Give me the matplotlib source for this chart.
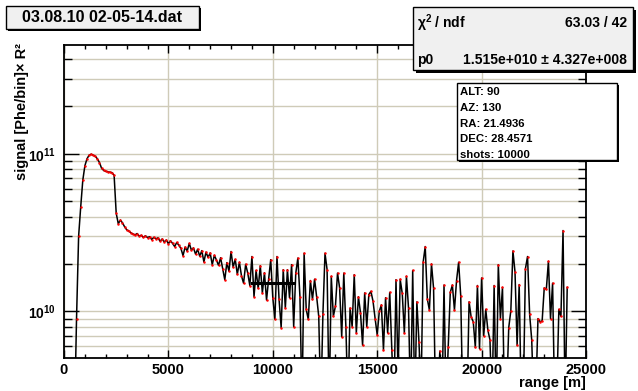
import numpy as np
import matplotlib
matplotlib.use("Agg")
import matplotlib.pyplot as plt
from matplotlib.patches import Rectangle
from matplotlib.ticker import MultipleLocator, LogLocator, NullFormatter

plt.rcParams["font.family"] = ["Liberation Sans", "DejaVu Sans"]
plt.rcParams["font.weight"] = "bold"
plt.rcParams["mathtext.default"] = "regular"

# range bins [m]
range_m = np.arange(500, 24101, 100)

# signal in units of 1e9 Phe/bin * R^2
rise_e9 = [2.0, 9.0, 30, 46, 68, 84, 93, 98, 99.5, 98, 96.5, 93, 88, 81,
           78.5, 77.5, 77, 76.5, 76, 73, 42, 36, 38, 36.5, 34.5, 33, 32.4, 31.6]
decay_e9 = [31.0, 30.6, 31.2, 30.1, 30.4, 29.5, 30.2, 29.4, 29.8, 28.6,
            29.5, 28.9, 29.3, 27.9, 28.8, 27.6, 28.4, 26.9, 28.1, 27.0,
            25.8, 27.4, 26.3, 25.1, 22.6, 25.6, 24.2, 27.0, 24.5, 25.3,
            23.1, 24.8, 22.4, 24.3, 20.6, 23.8, 22.0, 23.5, 19.8, 22.7,
            21.2, 19.6, 21.9, 18.7, 15.9, 20.4, 18.0, 24.0, 19.1, 21.4,
            17.2, 20.5, 16.8, 15.1, 19.9, 17.5, 14.6, 22.3, 12.4, 18.2,
            14.0, 19.5, 13.1, 17.6, 11.8, 16.0, 21.3]
noise_e9 = [12.2, 8.9, 22.3, 11.9, 7.9, 18.4, 10.5, 18.4, 12.2, 19.8,
            8.0, 17.5, 21.8, 12.4, 2.5, 23.4, 10.3, 8.9, 15.7, 11.9,
            16.0, 12.4, 9.3, 2.5, 9.6, 23.4, 18.4, 2.5, 16.7, 9.3,
            10.8, 17.5, 14.1, 6.9, 17.5, 8.0, 2.5, 10.5, 8.0, 17.1,
            7.3, 12.4, 9.8, 6.1, 13.1, 8.0, 12.8, 13.4, 11.6, 9.0,
            7.1, 10.0, 11.0, 5.7, 12.2, 7.3, 13.2, 5.7, 2.5, 15.9,
            4.0, 16.0, 13.0, 7.3, 16.7, 10.5, 2.5, 18.2, 2.5, 11.5,
            6.4, 3.0, 20.5, 25.8, 12.0, 10.2, 20.0, 14.0, 2.5, 3.0,
            5.6, 2.5, 14.7, 2.5, 5.9, 13.2, 14.7, 10.2, 15.7, 20.5,
            12.6, 2.5, 3.0, 2.5, 11.5, 9.2, 8.6, 5.9, 14.6, 5.8,
            16.3, 7.0, 10.3, 7.6, 6.6, 2.5, 14.6, 2.5, 19.8, 9.0,
            14.2, 2.5, 3.0, 7.9, 10.1, 24.2, 17.8, 6.1, 14.8, 2.5,
            3.0, 18.7, 22.3, 9.6, 6.6, 2.5, 3.0, 9.0, 8.6, 8.7,
            14.1, 13.8, 20.8, 9.0, 15.1, 2.5, 3.0, 10.3, 9.3, 32.6,
            2.5, 14.2]
signal = np.array(rise_e9 + decay_e9 + noise_e9) * 1e9

# constant fit
fit_range = [9000, 11000]
fit_p0 = 1.515e10
fit_err = 4.327e8
chi2 = 63.03
ndf = 42

title = "03.08.10 02-05-14.dat"
info_lines = ["ALT: 90", "AZ: 130", "RA: 21.4936", "DEC: 28.4571", "shots: 10000"]


def root_exp(v):
    m, e = f"{v:.3e}".split("e")
    return f"{m}e{e[0]}{int(e[1:]):03d}"


W, H = 638, 391
fig = plt.figure(figsize=(W / 100, H / 100), dpi=100)
ax = fig.add_axes([64 / W, 1 - 358 / H, (586 - 64) / W, (358 - 45) / H])

grid_c = "#cfcbb8"
ax.set_yscale("log")
ax.set_xlim(0, 25000)
ax.set_ylim(5.06e9, 4.91e11)

ax.plot(range_m, signal, color="black", lw=1.1, zorder=3,
        marker="o", ms=1.8, mfc="red", mec="red", mew=0)
ax.plot(fit_range, [fit_p0, fit_p0], color="black", lw=2.2, zorder=4)

ax.xaxis.set_major_locator(MultipleLocator(5000))
ax.xaxis.set_minor_locator(MultipleLocator(1000))
ax.yaxis.set_major_locator(LogLocator(base=10))
ax.yaxis.set_minor_locator(LogLocator(base=10, subs=np.arange(2, 10)))
ax.yaxis.set_minor_formatter(NullFormatter())

ax.grid(True, axis="x", which="major", color=grid_c, lw=1.0, zorder=0)
ax.grid(True, axis="y", which="both", color=grid_c, lw=1.0, zorder=0)
ax.set_axisbelow(True)

ax.tick_params(which="both", direction="in", top=True, right=True,
               width=1, labelsize=10.5)
ax.tick_params(axis="x", which="major", length=6, pad=3.5)
ax.tick_params(axis="x", which="minor", length=3)
ax.tick_params(axis="y", which="major", length=11, pad=6, labelsize=10)
ax.tick_params(axis="y", which="minor", length=6)
for s in ax.spines.values():
    s.set_linewidth(1.3)

fig.text(22 / W, 1 - 43 / H, "signal [Phe/bin]× R²", rotation=90,
         ha="center", va="top", fontsize=10.5)
fig.text(586 / W, 1 - 383 / H, "range [m]", ha="right", va="center",
         fontsize=10.5)


def box(x0, y0, x1, y1, fc, shadow=3):
    fig.add_artist(Rectangle((x0 / W + shadow / W, 1 - (y1 + shadow) / H),
                             (x1 - x0) / W, (y1 - y0) / H,
                             transform=fig.transFigure, fc="black",
                             ec="none", zorder=5))
    fig.add_artist(Rectangle((x0 / W, 1 - y1 / H), (x1 - x0) / W,
                             (y1 - y0) / H, transform=fig.transFigure,
                             fc=fc, ec="black", lw=1.0, zorder=6))


box(6, 6, 199, 29, "#f0f0f0", shadow=2)
fig.text(102 / W, 1 - 18 / H, title, ha="center", va="center",
         fontsize=11.5, zorder=7)

box(413, 7, 633, 70, "#f0f0f0", shadow=3)
fig.text(417 / W, 1 - 23 / H, "χ$^2$ / ndf", ha="left", va="center",
         fontsize=10, zorder=7)
fig.text(627 / W, 1 - 23 / H, f"{chi2:.2f} / {ndf}", ha="right",
         va="center", fontsize=10, zorder=7)
fig.text(417 / W, 1 - 60 / H, "p0", ha="left", va="center",
         fontsize=10, zorder=7)
fig.text(627 / W, 1 - 60 / H, f"{root_exp(fit_p0)} ± {root_exp(fit_err)}",
         ha="right", va="center", fontsize=10, zorder=7)

box(457, 83, 617, 160, "white", shadow=2)
for i, line in enumerate(info_lines):
    fig.text(460 / W, 1 - (92 + 15.8 * i) / H, line, ha="left",
             va="center", fontsize=8.2, zorder=7)

fig.savefig("out.png", dpi=100)
